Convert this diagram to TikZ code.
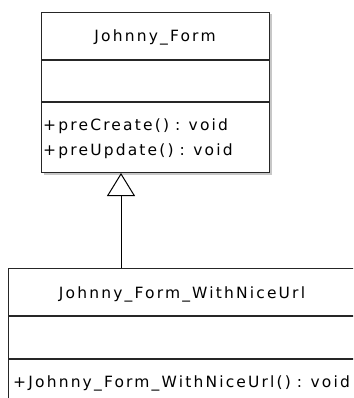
\documentclass[tikz,border=0pt]{standalone}
\usepackage{fontspec}
\setmainfont{DejaVu Sans}[LetterSpace=14, WordSpace=0.85]
\usetikzlibrary{arrows.meta}
\begin{document}
\begin{tikzpicture}[x=1pt, y=-1pt,
  classbox/.style={draw=black!85, line width=1.3pt, fill=white, inner sep=0pt, anchor=north west},
  sepline/.style={draw=black!85, line width=1.3pt},
  label/.style={inner sep=0pt, font=\fontsize{15.5}{17}\selectfont, text=black},
  inherit/.style={draw=black, line width=1pt, -{Triangle[open, length=23pt, width=28pt, line width=1pt]}}]
  \useasboundingbox (0,0) rectangle (353,398);
  \clip (0,0) rectangle (353,398);
  \fill[white] (0,0) rectangle (353,398);

  % base class with a soft drop shadow
  \fill[black!22] (43.5,14.5) rectangle (271.5,174.5);
  \node[classbox, minimum width=228pt, minimum height=160pt] (jf) at (41,12) {};
  \draw[sepline] (41,60) -- (269,60);
  \draw[sepline] (41,102) -- (269,102);
  \node[label, anchor=base] (jfname) at (155,42) {Johnny\_Form};
  \node[label, anchor=base west] (jfop1) at (43,131) {+preCreate() : void};
  \node[label, anchor=base west] (jfop2) at (43,155) {+preUpdate() : void};

  % derived class, running past the right and lower edges
  \node[classbox, minimum width=370pt, minimum height=160pt] (jfw) at (8,268) {};
  \draw[sepline] (8,316) -- (360,316);
  \draw[sepline] (8,359) -- (360,359);
  \node[label, anchor=base] (jfwname) at (182,298) {Johnny\_Form\_WithNiceUrl};
  \node[label, anchor=base west] (jfwop) at (13,387) {+Johnny\_Form\_WithNiceUrl() : void};

  % generalization
  \coordinate (gfrom) at (121,268);
  \coordinate (gto) at (121,173);
  \draw[inherit] (gfrom) -- (gto);
\end{tikzpicture}
\end{document}
